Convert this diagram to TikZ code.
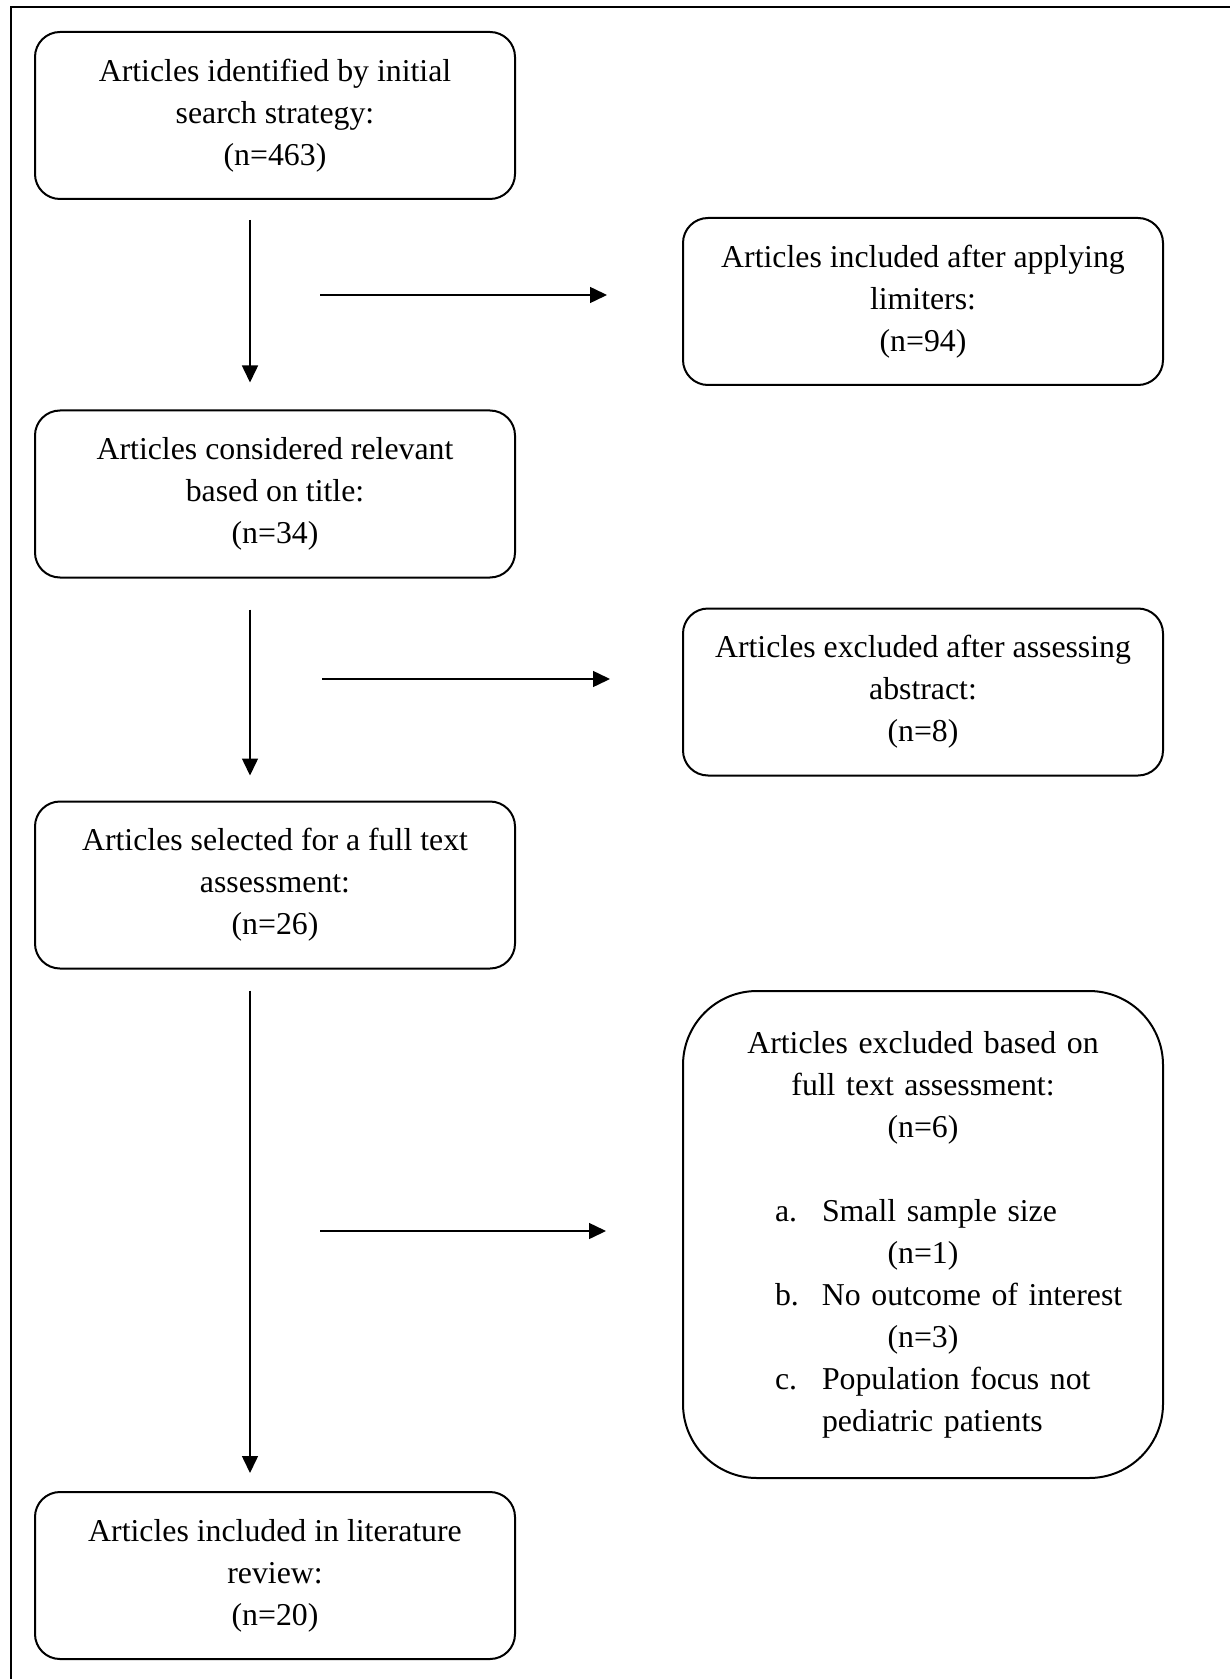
\documentclass[tikz,border=0pt]{standalone}
\usepackage{fontspec}
\setmainfont{Liberation Serif}
\usetikzlibrary{arrows.meta,positioning}

\newcommand{\exitem}[2]{\makebox[240pt][l]{\hspace*{46pt}\makebox[23.5pt][l]{#1}#2}}

\begin{document}
\begin{tikzpicture}
  [on grid,>={Triangle[length=8.5pt,width=8pt]},
  font=\fontsize{15.9}{21}\selectfont,
  stage/.style= {draw,line width=1pt,rounded corners=12.5pt,minimum width=240pt,
    minimum height=83.5pt,align=center,inner xsep=0pt},
  wide stage/.style={stage,rounded corners=37pt,minimum height=243.5pt,text width=240pt},
  flow/.style= {->,line width=0.75pt},
  frame/.style= {line width=1.3pt}]
  \useasboundingbox (0,0) rectangle (615pt,-839.5pt);
  \draw [frame] (5.4pt,-839.5pt) -- (5.4pt,-3.6pt) -- (615pt,-3.6pt);

  % left column
  \node [stage] (found) at (137.5pt,-57.75pt)
  {Articles identified by initial\\search strategy:\\(n=463)};
  \node [stage] (relevant) [below=189.25pt of found]
  {Articles considered relevant\\based on title:\\(n=34)};
  \node [stage] (selected) [below=195.5pt of relevant]
  {Articles selected for a full text\\assessment:\\(n=26)};
  \node [stage] (included) [below=345.25pt of selected]
  {Articles included in literature\\review:\\(n=20)};

  % right column
  \node [stage] (limited) [below right=93pt and 324pt of found]
  {Articles included after applying\\limiters:\\(n=94)};
  \node [stage] (abstract) [below=195.25pt of limited]
  {Articles excluded after assessing\\abstract:\\(n=8)};
  \node [wide stage] (fulltext) [below=271.25pt of abstract]
  {Articles excluded based on\\full text assessment:\\(n=6)\\[21pt]
    \exitem{a.}{Small sample size}\\(n=1)\\
    \exitem{b.}{No outcome of interest}\\(n=3)\\
    \exitem{c.}{Population focus not}\\
    \exitem{}{pediatric patients}};

  \draw [flow,shorten <=10pt,shorten >=13.5pt]
  ([xshift=-12.5pt]found.south) -- ([xshift=-12.5pt]relevant.north);
  \draw [flow,shorten <=15.5pt,shorten >=12.5pt]
  ([xshift=-12.5pt]relevant.south) -- ([xshift=-12.5pt]selected.north);
  \draw [flow,shorten <=10.5pt,shorten >=9pt]
  ([xshift=-12.5pt]selected.south) -- ([xshift=-12.5pt]included.north);

  \draw [flow,shorten >=37.5pt]
  ([shift={(-181pt,3.25pt)}]limited.west) -- ([yshift=3.25pt]limited.west);
  \draw [flow,shorten >=36pt]
  ([shift={(-180pt,6.5pt)}]abstract.west) -- ([yshift=6.5pt]abstract.west);
  \draw [flow,shorten >=38pt]
  ([shift={(-181pt,1.75pt)}]fulltext.west) -- ([yshift=1.75pt]fulltext.west);
\end{tikzpicture}
\end{document}
